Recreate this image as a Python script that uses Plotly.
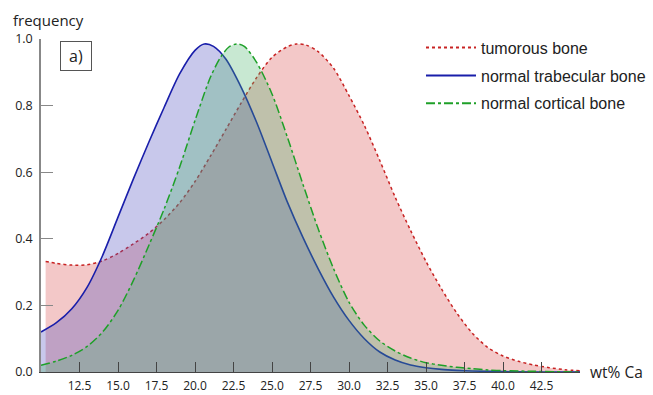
import plotly.graph_objects as go

# ---- data ----
tum_x = [10.3, 11, 12, 13, 14, 15, 16, 17, 18, 19, 20, 21, 22, 23, 24, 25, 26, 26.6, 27.2, 28, 29, 30, 31, 32, 33, 34, 35, 36, 37, 38, 39, 40, 41, 42, 43, 44, 45]
tum_y = [0.332, 0.326, 0.321, 0.322, 0.334, 0.356, 0.385, 0.417, 0.458, 0.508, 0.572, 0.648, 0.728, 0.808, 0.884, 0.945, 0.977, 0.985, 0.982, 0.962, 0.912, 0.83, 0.74, 0.635, 0.525, 0.425, 0.332, 0.25, 0.177, 0.117, 0.074, 0.048, 0.032, 0.021, 0.013, 0.007, 0.004]

trab_x = [10, 11, 12, 13, 14, 15, 16, 17, 18, 19, 20, 20.6, 21.2, 22, 23, 24, 25, 26, 27, 28, 29, 30, 31, 32, 33, 34, 35, 36, 37, 38, 40, 42, 45]
trab_y = [0.12, 0.148, 0.19, 0.255, 0.35, 0.465, 0.58, 0.69, 0.795, 0.895, 0.966, 0.985, 0.978, 0.94, 0.855, 0.75, 0.63, 0.51, 0.405, 0.31, 0.225, 0.155, 0.1, 0.06, 0.036, 0.021, 0.013, 0.008, 0.005, 0.003, 0.001, 0.0, 0.0]

cort_x = [10, 11, 12, 13, 14, 15, 16, 17, 18, 19, 20, 21, 21.7, 22.2, 22.7, 23.2, 24, 25, 26, 27, 28, 29, 30, 31, 32, 33, 34, 35, 36, 37, 38, 39, 40, 42, 45]
cort_y = [0.02, 0.033, 0.05, 0.077, 0.12, 0.185, 0.275, 0.38, 0.49, 0.615, 0.755, 0.885, 0.948, 0.976, 0.985, 0.978, 0.93, 0.835, 0.705, 0.565, 0.43, 0.31, 0.21, 0.14, 0.093, 0.063, 0.042, 0.028, 0.02, 0.014, 0.01, 0.006, 0.004, 0.002, 0.0]

x_ticks = [12.5, 15.0, 17.5, 20.0, 22.5, 25.0, 27.5, 30.0, 32.5, 35.0, 37.5, 40.0, 42.5]
y_ticks = [0.0, 0.2, 0.4, 0.6, 0.8, 1.0]

series = [
    ("tumorous bone", tum_x, tum_y, "rgb(200,35,35)", "dot", 1.5, "rgba(215,72,72,0.3)"),
    ("normal trabecular bone", trab_x, trab_y, "rgb(25,30,170)", "solid", 1.6, "rgba(72,72,188,0.3)"),
    ("normal cortical bone", cort_x, cort_y, "rgb(30,160,40)", "dashdot", 1.5, "rgba(72,178,105,0.3)"),
]

fig = go.Figure()
for i, (name, xs, ys, col, dash, w, fc) in enumerate(series):
    fig.add_trace(go.Scatter(x=xs, y=ys, name=name, mode="lines", showlegend=False,
                             line=dict(color=col, width=w, dash=dash, shape="spline", smoothing=0.8),
                             fill="tozeroy", fillcolor=fc))
for i, (name, xs, ys, col, dash, w, fc) in enumerate(series):
    fig.add_trace(go.Scatter(x=[None], y=[None], name=name, mode="lines", legendgroup=f"g{i}",
                             line=dict(color=col, width=2, dash=dash)))

fig.update_layout(
    width=653, height=395,
    margin=dict(l=41, r=73, t=39, b=23, autoexpand=False),
    paper_bgcolor="white", plot_bgcolor="white",
    font=dict(family="Open Sans, Arial, sans-serif", size=12, color="#222"),
    legend=dict(x=0.705, y=1.025, xanchor="left", yanchor="top", tracegroupgap=4,
                font=dict(family="Liberation Sans, Arial, sans-serif", size=16, color="#222"),
                bgcolor="rgba(0,0,0,0)", itemwidth=50),
    showlegend=True,
)
fig.update_xaxes(range=[10, 45], tickvals=x_ticks, ticktext=[f"{v:.1f}" for v in x_ticks],
                 showgrid=False, zeroline=False, showline=True, linecolor="#444", linewidth=1.2,
                 ticks="inside", ticklen=10, tickcolor="#444", tickwidth=1.2,
                 ticklabelstandoff=2, automargin=False,
                 tickfont=dict(size=12, color="#222"))
fig.update_yaxes(range=[0, 1.0], tickvals=y_ticks, ticktext=[f"{v:.1f}" for v in y_ticks],
                 showgrid=False, zeroline=False, showline=True, linecolor="#888", linewidth=1.5,
                 ticks="inside", ticklen=12, tickcolor="#888", tickwidth=1.2,
                 ticklabelstandoff=4, automargin=False,
                 tickfont=dict(size=12.5, color="#222"))

fig.add_annotation(text="frequency", xref="paper", yref="paper", x=-0.055, y=1.057,
                   xanchor="left", yanchor="middle", showarrow=False,
                   font=dict(size=15, color="#222"))
fig.add_annotation(text="wt% Ca", xref="paper", yref="paper", x=1.015, y=0.0,
                   xanchor="left", yanchor="middle", showarrow=False,
                   font=dict(size=15.5, color="#222"))
fig.add_annotation(text="a)", xref="paper", yref="paper", x=0.036, y=0.995,
                   xanchor="left", yanchor="top", showarrow=False,
                   font=dict(size=16, color="#222"), bordercolor="#555", borderwidth=1,
                   borderpad=4, bgcolor="white", width=22, height=20)

fig.write_html("out.html")
